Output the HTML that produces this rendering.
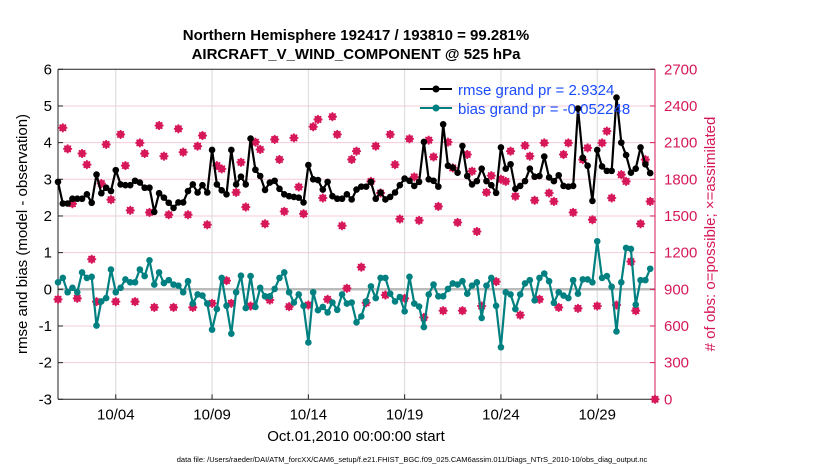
<!DOCTYPE html>
<html><head><meta charset="utf-8"><style>
body{margin:0;background:#fff;}
svg text{font-family:"Liberation Sans",sans-serif;}
</style></head><body>
<svg id="chart" width="830" height="470" viewBox="0 0 830 470" xmlns="http://www.w3.org/2000/svg">
<rect width="830" height="470" fill="#fff"/>
<text x="356" y="40" font-size="15" font-weight="bold" text-anchor="middle">Northern Hemisphere 192417 / 193810 = 99.281%</text>
<text x="356" y="59" font-size="15" font-weight="bold" text-anchor="middle">AIRCRAFT_V_WIND_COMPONENT @ 525 hPa</text>
<g id="grid"></g>
<g id="axes"></g>
<g id="obs"></g>
<g id="series"></g>
<text transform="translate(27,234) rotate(-90)" font-size="15" text-anchor="middle">rmse and bias (model - observation)</text>
<text transform="translate(715,234) rotate(-90)" font-size="15" text-anchor="middle" fill="#d6185a"># of obs: o=possible; ×=assimilated</text>
<text x="356" y="441" font-size="15" text-anchor="middle">Oct.01,2010 00:00:00 start</text>
<text x="412" y="462" font-size="7.5" text-anchor="middle">data file: /Users/raeder/DAI/ATM_forcXX/CAM6_setup/f.e21.FHIST_BGC.f09_025.CAM6assim.011/Diags_NTrS_2010-10/obs_diag_output.nc</text>
<g id="legend">
 <line x1="420" y1="89" x2="452" y2="89" stroke="#000" stroke-width="2"/>
 <circle cx="436" cy="89" r="3.5" fill="#000"/>
 <text x="458" y="95" font-size="15" fill="#1a4cff">rmse grand pr = 2.9324</text>
 <line x1="420" y1="108" x2="452" y2="108" stroke="#008080" stroke-width="2"/>
 <circle cx="436" cy="108" r="3.5" fill="#008080"/>
 <text x="458" y="114" font-size="15" fill="#1a4cff">bias grand pr = -0.052248</text>
</g>
</svg>
<script>
const rmse=[2.93,2.34,2.34,2.47,2.47,2.47,2.59,2.36,3.13,2.62,2.77,2.68,3.25,2.86,2.84,2.84,2.96,2.91,2.77,2.77,2.11,2.62,2.50,2.36,2.22,2.37,2.37,2.68,2.86,2.64,2.84,2.64,3.80,2.86,2.70,2.59,3.80,2.86,3.07,2.86,4.11,3.26,3.09,2.71,
2.91,2.96,2.74,2.59,2.54,2.52,2.50,2.37,3.39,3.00,2.98,2.72,2.93,2.54,2.47,2.47,2.59,2.45,2.72,2.80,2.80,2.93,2.47,2.64,2.45,2.52,2.64,2.84,3.02,2.96,2.82,2.93,4.02,3.00,2.96,2.80,4.50,3.37,3.32,3.18,3.91,
3.09,2.86,2.95,3.29,2.95,2.84,2.63,3.87,3.29,3.41,2.74,2.82,2.95,3.29,3.07,3.09,3.62,3.05,2.95,3.11,2.82,2.80,2.82,4.93,3.59,3.37,2.41,3.80,3.35,3.23,3.23,5.23,4.00,3.66,3.18,3.29,3.87,3.41,3.17];
const bias=[0.19,0.31,-0.08,0.04,-0.08,0.46,0.31,0.34,-0.99,-0.33,-0.24,0.54,-0.08,0.04,0.27,0.19,0.19,0.54,0.36,0.79,0.13,0.46,0.17,0.25,0.13,0.10,-0.08,0.22,-0.39,-0.14,-0.17,-0.39,-1.10,-0.54,0.31,-0.45,-1.21,-0.08,0.37,-0.51,0.36,-0.48,0.04,-0.19,
-0.19,0.01,0.31,0.46,-0.08,-0.36,-0.14,-0.45,-1.45,-0.08,-0.57,-0.48,-0.63,-0.36,-0.56,-0.14,-0.39,-0.36,-0.90,-0.74,-0.33,0.08,-0.24,0.31,0.31,-0.12,-0.33,-0.21,-0.60,0.34,-0.39,-0.47,-1.03,-0.14,0.13,-0.19,-0.19,0.01,0.16,0.13,0.22,
-0.12,0.10,0.19,-0.78,0.10,0.31,-0.45,-1.58,-0.08,-0.14,-0.54,-0.14,0.16,0.25,-0.30,0.31,0.43,0.22,-0.37,-0.08,-0.17,-0.24,0.25,-0.12,0.27,0.27,0.19,1.31,0.31,0.36,0.07,-1.15,0.19,1.13,1.10,-0.42,0.25,0.25,0.56];
const obsCount=[818,2221,2049,1600,826,2011,1920,1146,799,1765,2085,1633,799,2167,1912,1546,799,2098,2011,1529,752,2240,1989,1510,752,2213,2022,1510,752,2071,2158,1428,785,1912,1885,971,785,1693,1939,1573,763,2104,2044,1436,
812,2126,1962,1537,758,2139,1737,1518,771,2230,2290,1647,818,2312,2167,1420,908,1962,2030,1081,790,1783,2071,1688,853,2167,1920,1475,826,2131,1819,1464,670,2120,1983,1578,725,2104,1893,1447,725,
2003,1866,1373,763,1693,1830,963,1800,1783,2030,1661,689,2076,1989,1628,818,2098,1688,1619,752,2003,2098,1529,744,1961,2057,1469,763,2098,2194,1647,771,1838,1783,1127,725,1436,1961,1619,0];
const dateTicks=[3,8,13,18,23,28];
const dateLabels=["10/04","10/09","10/14","10/19","10/24","10/29"];
const leftTicks=[6,5,4,3,2,1,0,-1,-2,-3];
const rightTicks=[0,300,600,900,1200,1500,1800,2100,2400,2700];
const stepDays=0.25;

const X0=58,X1=655,Y0=399.3,Y1=69.3,D0=0,D1=31;
const xs=d=>X0+(d-D0)/(D1-D0)*(X1-X0);
const yl=v=>Y0-(v+3)/9*(Y0-Y1);
const yr=v=>Y0-v/2700*(Y0-Y1);
const NS="http://www.w3.org/2000/svg";
function mk(tag,attrs,parent){const e=document.createElementNS(NS,tag);for(const k in attrs)e.setAttribute(k,attrs[k]);parent.appendChild(e);return e;}
const grid=document.getElementById('grid'),axes=document.getElementById('axes'),obs=document.getElementById('obs'),ser=document.getElementById('series');

leftTicks.forEach(t=>{
 if(t!==-3&&t!==6){const l=mk('line',{x1:X0,x2:X1,y1:yl(t),y2:yl(t),stroke:'#f3cbd9','stroke-width':1},grid);
 
 }
 const tk=mk('line',{x1:X0,x2:X0+5,y1:yl(t),y2:yl(t),stroke:'#222'},axes);
 
 
 const tx=mk('text',{x:X0-6,y:yl(t)+5,'font-size':15,'text-anchor':'end'},axes);
 tx.textContent=t;
 
 
});
rightTicks.forEach(t=>{
 const tk=mk('line',{x1:X1-5,x2:X1,y1:yr(t),y2:yr(t),stroke:'#d6185a'},axes);
 
 
 const tx=mk('text',{x:X1+9,y:yr(t)+5,'font-size':15,fill:'#d6185a'},axes);
 tx.textContent=t;
 
 
});
dateTicks.forEach((d,i)=>{
 const l=mk('line',{x1:xs(d),x2:xs(d),y1:Y1,y2:Y0,stroke:'#d8d8d8'},grid);
 
 
 const tk=mk('line',{x1:xs(d),x2:xs(d),y1:Y0,y2:Y0-5,stroke:'#222'},axes);
 
 
 const tx=mk('text',{x:xs(d),y:Y0+20,'font-size':15,'text-anchor':'middle'},axes);
 tx.textContent=dateLabels[i];
 
 
});
const zl=mk('line',{x1:X0,x2:X1,y1:yl(0),y2:yl(0),stroke:'#bbbbbb','stroke-width':2.5},grid);


const la=mk('line',{x1:X0,x2:X0,y1:Y1,y2:Y0,stroke:'#222'},axes);


const ba=mk('line',{x1:X0,x2:X1,y1:Y0,y2:Y0,stroke:'#222'},axes);


const ta=mk('line',{x1:X0,x2:X1,y1:Y1,y2:Y1,stroke:'#222'},axes);


const ra=mk('line',{x1:X1,x2:X1,y1:Y1,y2:Y0,stroke:'#d6185a'},axes);



obsCount.forEach((v,i)=>{
 const cx=xs(i*stepDays),cy=yr(v);
 const g=mk('g',{stroke:'#d6185a','stroke-width':1.7,fill:'none'},obs);
 
 
 mk('circle',{cx:cx,cy:cy,r:2.8},g);
 mk('line',{x1:cx-4.5,x2:cx+4.5,y1:cy,y2:cy},g);
 mk('line',{x1:cx,x2:cx,y1:cy-4.5,y2:cy+4.5},g);
 mk('line',{x1:cx-3.2,x2:cx+3.2,y1:cy-3.2,y2:cy+3.2},g);
 mk('line',{x1:cx-3.2,x2:cx+3.2,y1:cy+3.2,y2:cy-3.2},g);
});

function drawSeries(vals,color,name){
 const pts=vals.map((v,i)=>xs(i*stepDays).toFixed(1)+','+yl(v).toFixed(1)).join(' ');
 const pl=mk('polyline',{points:pts,fill:'none',stroke:color,'stroke-width':2.2,'stroke-linejoin':'round'},ser);
 
 
 vals.forEach((v,i)=>{
  const c=mk('circle',{cx:xs(i*stepDays),cy:yl(v),r:3.3,fill:color},ser);
  
  
 });
}
drawSeries(bias,'#008080','bias');
drawSeries(rmse,'#000000','rmse');
</script>
</body></html>
